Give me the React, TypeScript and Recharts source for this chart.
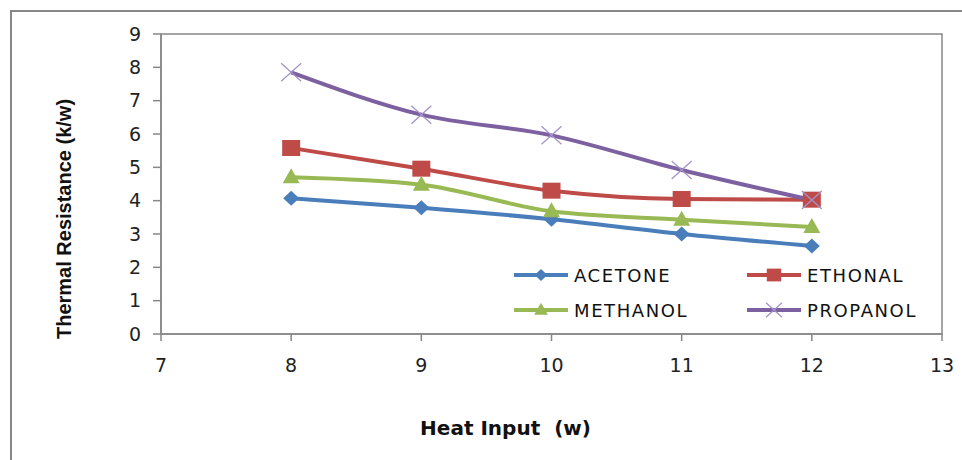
import React from "react";
import {
  Label,
  Line,
  LineChart,
  ReferenceArea,
  XAxis,
  YAxis,
} from "recharts";

// Values.
const heatInput = [8, 9, 10, 11, 12];
const acetone = [4.07, 3.79, 3.44, 3.0, 2.64];
const ethonal = [5.58, 4.96, 4.3, 4.05, 4.03];
const methanol = [4.7, 4.48, 3.68, 3.43, 3.21];
const propanol = [7.85, 6.58, 5.96, 4.92, 4.02];

const xTicks = [7, 8, 9, 10, 11, 12, 13];
const yTicks = [0, 1, 2, 3, 4, 5, 6, 7, 8, 9];

const seriesNames = ["ACETONE", "ETHONAL", "METHANOL", "PROPANOL"];
const seriesKeys = ["acetone", "ethonal", "methanol", "propanol"];
const seriesColors = ["#4A7EBB", "#BE4B48", "#98B954", "#7D60A0"];
const seriesShapes = ["diamond", "square", "triangle", "cross"];

const data = heatInput.map((x, i) => ({
  x,
  acetone: acetone[i],
  ethonal: ethonal[i],
  methanol: methanol[i],
  propanol: propanol[i],
}));

const AXIS = "#878787";
const TICK_FONT = "'DejaVu Sans', sans-serif";

function Marker({
  shape,
  cx,
  cy,
  color,
  scale = 1,
}: {
  shape: string;
  cx: number;
  cy: number;
  color: string;
  scale?: number;
}) {
  const s = scale;
  if (shape === "diamond") {
    return (
      <path
        d={`M${cx} ${cy - 7.5 * s} L${cx + 8 * s} ${cy} L${cx} ${cy + 7.5 * s} L${cx - 8 * s} ${cy} Z`}
        fill={color}
      />
    );
  }
  if (shape === "square") {
    return (
      <rect x={cx - 9 * s} y={cy - 8 * s} width={18 * s} height={16 * s} fill={color} />
    );
  }
  if (shape === "triangle") {
    return (
      <path
        d={`M${cx} ${cy - 9 * s} L${cx + 8.5 * s} ${cy + 6 * s} L${cx - 8.5 * s} ${cy + 6 * s} Z`}
        fill={color}
      />
    );
  }
  return (
    <path
      d={`M${cx - 10 * s} ${cy - 9 * s} L${cx + 10 * s} ${cy + 9 * s} M${cx - 10 * s} ${cy + 9 * s} L${cx + 10 * s} ${cy - 9 * s}`}
      stroke="#A593C9"
      strokeWidth={1.3}
      fill="none"
    />
  );
}

function makeDot(shape: string, color: string) {
  return (p: any) => (
    <g key={`${shape}-${p.index}`}>
      <Marker shape={shape} cx={p.cx} cy={p.cy} color={color} />
    </g>
  );
}

// Legend sits inside the plot, bottom right, 2 x 2 like the original
function LegendBox() {
  return (
    <div
      style={{
        position: "absolute",
        left: 512,
        top: 264,
        display: "grid",
        gridTemplateColumns: "233px 200px",
        rowGap: 13,
        fontFamily: TICK_FONT,
        fontSize: 18,
        letterSpacing: 1.6,
        color: "#111",
      }}
    >
      {seriesNames.map((name, i) => (
        <div key={name} style={{ display: "flex", alignItems: "center", height: 22 }}>
          <svg width={58} height={22} style={{ display: "block" }}>
            <line x1={2} y1={11} x2={56} y2={11} stroke={seriesColors[i]} strokeWidth={4} />
            <Marker shape={seriesShapes[i]} cx={29} cy={11} color={seriesColors[i]} scale={0.8} />
          </svg>
          <span style={{ marginLeft: 4 }}>{name}</span>
        </div>
      ))}
    </div>
  );
}

function XTitle(props: any) {
  const vb = props.viewBox;
  return (
    <text
      x={vb.x + vb.width / 2 - 46}
      y={428}
      textAnchor="middle"
      dominantBaseline="central"
      fontFamily="'DejaVu Sans', sans-serif"
      fontWeight="bold"
      fontSize={20}
      fill="#111"
      style={{ whiteSpace: "pre" }}
    >
      {"Heat Input  (w)"}
    </text>
  );
}

function YTitle(props: any) {
  const vb = props.viewBox;
  const cx = 64;
  const cy = vb.y + vb.height / 2 + 35;
  return (
    <text
      x={cx}
      y={cy}
      transform={`rotate(-90 ${cx} ${cy})`}
      textAnchor="middle"
      dominantBaseline="central"
      fontFamily="'Liberation Sans', Arial, sans-serif"
      fontWeight="bold"
      fontSize={20}
      fill="#111"
    >
      Thermal Resistance (k/w)
    </text>
  );
}

export default function App() {
  return (
    <div
      style={{
        position: "absolute",
        left: 0,
        top: 0,
        width: 962,
        height: 460,
        background: "#fff",
        overflow: "hidden",
      }}
    >
      <div
        style={{
          position: "absolute",
          left: 10,
          top: 10,
          right: -4,
          bottom: -4,
          borderLeft: `2px solid ${AXIS}`,
          borderTop: `2px solid ${AXIS}`,
        }}
      />
      <LineChart
        width={962}
        height={460}
        data={data}
        margin={{ top: 34, right: 20, bottom: 86, left: 100 }}
        style={{ position: "absolute", left: 0, top: 0 }}
      >
        <ReferenceArea
          x1={7}
          x2={13}
          y1={0}
          y2={9}
          fill="none"
          stroke={AXIS}
          strokeWidth={1.5}
          ifOverflow="visible"
        />
        <XAxis
          dataKey="x"
          type="number"
          domain={[7, 13]}
          ticks={xTicks}
          interval={0}
          height={40}
          tick={{ fontFamily: TICK_FONT, fontSize: 19, fill: "#222" }}
          tickSize={7}
          tickMargin={18}
          axisLine={{ stroke: AXIS, strokeWidth: 1.5 }}
          tickLine={{ stroke: AXIS, strokeWidth: 1.5 }}
        >
          <Label content={XTitle} />
        </XAxis>
        <YAxis
          type="number"
          domain={[0, 9]}
          ticks={yTicks}
          interval={0}
          width={61}
          tick={{ fontFamily: TICK_FONT, fontSize: 19, fill: "#222" }}
          tickSize={8}
          tickMargin={12}
          axisLine={{ stroke: AXIS, strokeWidth: 1.5 }}
          tickLine={{ stroke: AXIS, strokeWidth: 1.5 }}
        >
          <Label content={YTitle} />
        </YAxis>
        {seriesKeys.map((key, i) => (
          <Line
            key={key}
            type="monotone"
            dataKey={key}
            name={seriesNames[i]}
            stroke={seriesColors[i]}
            strokeWidth={4}
            dot={makeDot(seriesShapes[i], seriesColors[i])}
            activeDot={false}
            isAnimationActive={false}
          />
        ))}
      </LineChart>
      <LegendBox />
    </div>
  );
}
